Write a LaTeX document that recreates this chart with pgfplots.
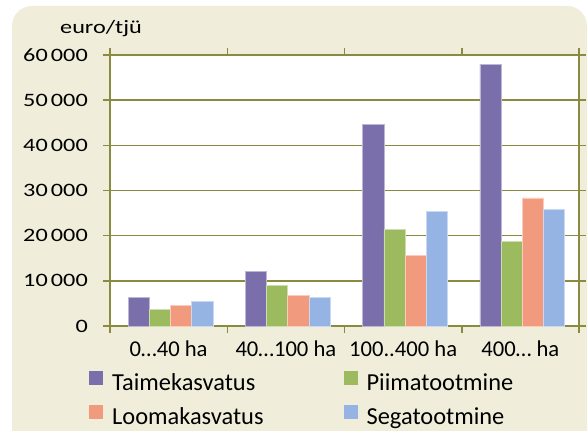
\documentclass[border=0pt]{standalone}
\usepackage{fontspec}
\setmainfont{Carlito}
\newfontfamily\tickfont[FakeStretch=1.28]{Carlito}
\newcommand\tk[1]{{\tickfont\fontsize{19}{23}\selectfont #1}}
\usepackage{pgfplots}
\pgfplotsset{compat=1.18}
\definecolor{gridolive}{HTML}{8B8B3F}
\definecolor{bgbeige}{HTML}{F0EEDA}
\definecolor{cTaime}{HTML}{7A6FAB}
\definecolor{cPiim}{HTML}{9BBB5E}
\definecolor{cLooma}{HTML}{F19A7E}
\definecolor{cSega}{HTML}{95B3E3}
\begin{document}
\begin{tikzpicture}[x=1bp,y=1bp]
\useasboundingbox (0,0) rectangle (588,430);
\fill[white] (0,0) rectangle (588,430);
\fill[bgbeige, rounded corners=20bp] (12,-20) rectangle (587,424);
\node[inner sep=0pt] at (101,401) {\tk{euro/tjü}};
\begin{axis}[
  at={(110bp,104bp)}, anchor=south west,
  scale only axis, width=469bp, height=271bp,
  xmin=-0.5, xmax=3.5, ymin=0, ymax=60000,
  axis background/.style={fill=white},
  axis line style={draw=gridolive, line width=2bp},
  ymajorgrids, major grid style={draw=gridolive, line width=1.5bp},
  tick style={draw=gridolive, line width=1.5bp},
  tick align=outside, major tick length=7bp,
  xtick={-0.5,0.5,1.5,2.5,3.5}, xticklabels={},
  extra x ticks={0,1,2,3},
  extra x tick labels={0…40 ha,40…100 ha,100..400 ha,400… ha},
  extra x tick style={major tick length=0pt,
     xticklabel style={font=\fontsize{22.7}{26}\selectfont, anchor=base, inner sep=0pt, yshift=-30bp}},
  ytick={0,10000,20000,30000,40000,50000,60000},
  yticklabels={\tk{0},\tk{10\,000},\tk{20\,000},\tk{30\,000},\tk{40\,000},\tk{50\,000},\tk{60\,000}},
  scaled y ticks=false,
  yticklabel style={anchor=east, inner sep=0pt, xshift=-15bp},
  ybar=0pt, bar width=21.2bp,
  legend columns=2,
  legend cell align=left,
  legend image code/.code={\fill[#1,draw=none] (0bp,-0.5bp) rectangle (14bp,13.5bp);},
  legend style={at={(-0.0448,-0.165)}, anchor=north west, draw=none, fill=none,
     inner sep=0pt, row sep=9.3bp,
     font=\fontsize{24.5}{29}\selectfont,
     nodes={inner sep=0pt, text height=17bp, text depth=5bp},
     /tikz/every odd column/.append style={column sep=9bp},
     /tikz/every even column/.append style={column sep=80bp}},
]
\addplot[fill=cTaime, draw=cTaime!50!white, line width=0.8bp, bar shift=-29.8bp]
  coordinates {(0,6300) (1,12100) (2,44700) (3,58000)};
\addlegendentry{Taimekasvatus}
\addplot[fill=cPiim, draw=cPiim!50!white, line width=0.8bp, bar shift=-8.6bp]
  coordinates {(0,3700) (1,9000) (2,21300) (3,18750)};
\addlegendentry{Piimatootmine}
\addplot[fill=cLooma, draw=cLooma!50!white, line width=0.8bp, bar shift=12.6bp]
  coordinates {(0,4600) (1,6800) (2,15550) (3,28350)};
\addlegendentry{Loomakasvatus}
\addplot[fill=cSega, draw=cSega!50!white, line width=0.8bp, bar shift=33.8bp]
  coordinates {(0,5450) (1,6350) (2,25300) (3,25750)};
\addlegendentry{Segatootmine}
\end{axis}
\end{tikzpicture}
\end{document}
